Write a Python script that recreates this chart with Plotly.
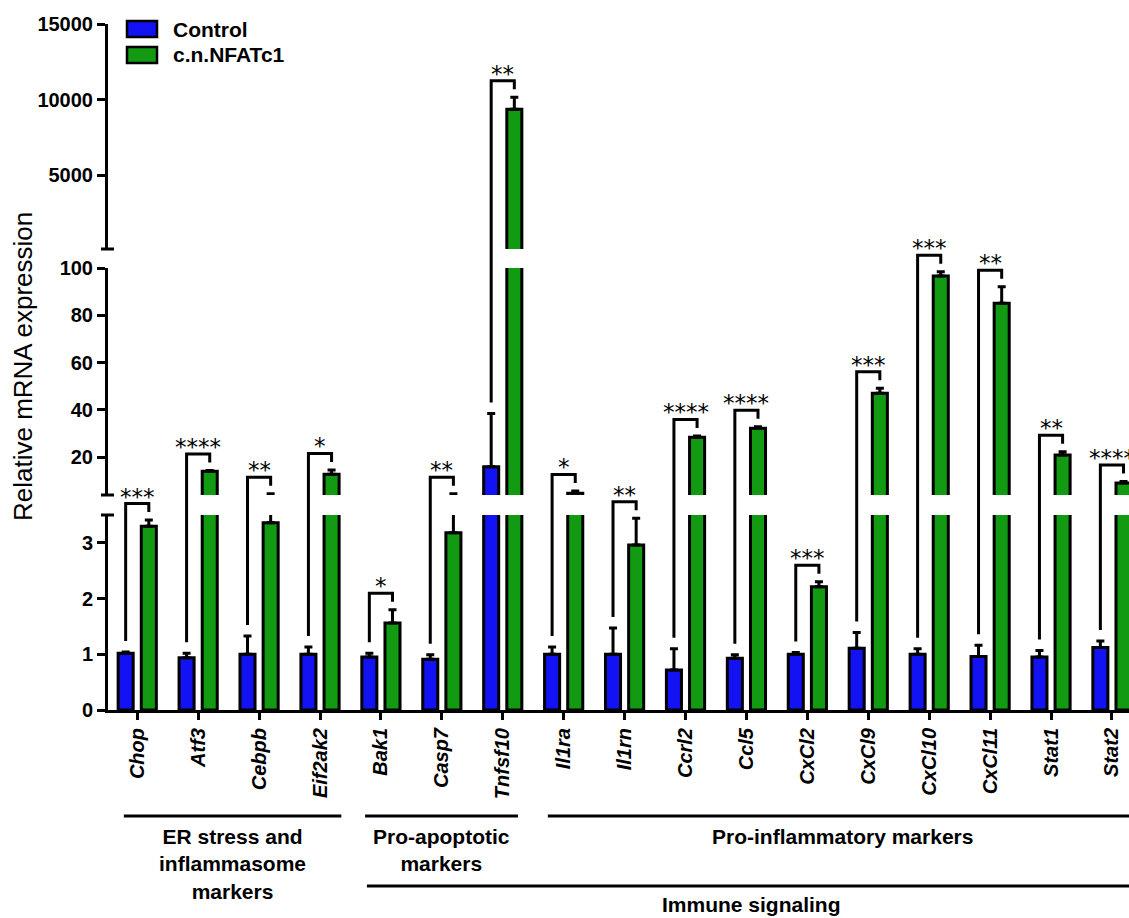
import plotly.graph_objects as go

# ---------------- data ----------------
genes = ["Chop", "Atf3", "Cebpb", "Eif2ak2", "Bak1", "Casp7", "Tnfsf10",
         "Il1ra", "Il1rn", "Ccrl2", "Ccl5", "CxCl2", "CxCl9", "CxCl10",
         "CxCl11", "Stat1", "Stat2"]
control = [1.02, 0.94, 1.00, 1.00, 0.95, 0.91, 16.0, 1.00, 1.00, 0.72,
           0.93, 1.00, 1.11, 1.00, 0.96, 0.95, 1.12]
control_err = [0.02, 0.08, 0.33, 0.13, 0.07, 0.08, 22.5, 0.13, 0.47, 0.38,
               0.06, 0.03, 0.28, 0.10, 0.20, 0.12, 0.12]
nfatc1 = [3.30, 14.0, 3.36, 12.8, 1.56, 3.18, 9350, 4.7, 2.96, 28.4,
          32.2, 2.21, 47.0, 96.6, 85.1, 20.9, 9.1]
nfatc1_err = [0.11, 0.4, 1.14, 1.8, 0.24, 1.32, 800, 1.0, 0.48, 0.6,
              0.7, 0.09, 2.1, 1.8, 7.0, 1.4, 0.6]
stars = ["***", "****", "**", "*", "*", "**", "**", "*", "**", "****",
         "****", "***", "***", "***", "**", "**", "****"]

groups_upper = [("ER stress and<br>inflammasome<br>markers", -0.22, 3.35),
                ("Pro-apoptotic<br>markers", 3.74, 6.25),
                ("Pro-inflammatory markers", 6.74, 16.40)]
group_lower = ("Immune signaling", 3.77, 16.40)

seg_ranges = [[0, 3.5], [4, 100], [100, 15000]]
seg_ticks = [[0, 1, 2, 3], [20, 40, 60, 80, 100], [5000, 10000, 15000]]

# ---------------- geometry ----------------
W, H = 1129, 918
ML, MR, MT, MB = 108, 0, 24, 208
PW, PH = W - ML - MR, H - MT - MB
X_RANGE = [-0.48, 16.28]
BLUE = "#1212F2"
GREEN = "#129A12"
FONT = "Liberation Sans, Arial, sans-serif"


def py(p):
    return (H - MB - p) / PH


def px(p):
    return (p - ML) / PW


seg_domains = [[0, py(515)], [py(495), py(268)], [py(249), 1.0]]


def v2paper(v):
    for (r0, r1), (d0, d1) in zip(seg_ranges, seg_domains):
        if r0 <= v <= r1:
            return d0 + (v - r0) / (r1 - r0) * (d1 - d0)
    for i in range(len(seg_ranges) - 1):
        a, b = seg_ranges[i][1], seg_ranges[i + 1][0]
        if a < v < b:
            da, db = seg_domains[i][1], seg_domains[i + 1][0]
            return da + (v - a) / (b - a) * (db - da)
    return 1.0


def c2paper(c):
    return (c - X_RANGE[0]) / (X_RANGE[1] - X_RANGE[0])


def visible_in(vals, errs, rmin):
    # only keep bars whose bar/error reaches into this axis segment
    return [v if v + e > rmin else None for v, e in zip(vals, errs)]


fig = go.Figure()
n = len(genes)
axes_pairs = [("x", "y"), ("x2", "y2"), ("x3", "y3")]
for k, (xa, ya) in enumerate(axes_pairs):
    rmin = seg_ranges[k][0]
    fig.add_trace(go.Bar(
        x=genes, y=visible_in(control, control_err, rmin), xaxis=xa, yaxis=ya,
        showlegend=False,
        marker=dict(color=BLUE, line=dict(color="black", width=3)),
        error_y=dict(type="data", array=control_err, arrayminus=[0] * n,
                     symmetric=False, thickness=3, width=4, color="black")))
    fig.add_trace(go.Bar(
        x=genes, y=visible_in(nfatc1, nfatc1_err, rmin), xaxis=xa, yaxis=ya,
        showlegend=False,
        marker=dict(color=GREEN, line=dict(color="black", width=3)),
        error_y=dict(type="data", array=nfatc1_err, arrayminus=[0] * n,
                     symmetric=False, thickness=3, width=4, color="black")))

axis_common = dict(showline=True, linecolor="black", linewidth=3,
                   ticks="outside", tickcolor="black", tickwidth=3, ticklen=8,
                   showgrid=False, zeroline=False,
                   tickfont=dict(family=FONT, size=20, color="black", weight="bold"))

layout = dict(
    width=W, height=H,
    margin=dict(l=ML, r=MR, t=MT, b=MB, pad=0),
    paper_bgcolor="white", plot_bgcolor="white",
    barmode="group", bargap=0.24, bargroupgap=0.35,
    xaxis=dict(domain=[0, 1], anchor="y", type="category", range=X_RANGE,
               showline=True, linecolor="black", linewidth=3,
               ticks="outside", tickcolor="black", tickwidth=2.5, ticklen=7,
               tickangle=-90, showgrid=False,
               tickfont=dict(family=FONT, size=20, color="black",
                             style="italic", weight="bold")),
    xaxis2=dict(matches="x", anchor="y2", visible=False, domain=[0, 1]),
    xaxis3=dict(matches="x", anchor="y3", visible=False, domain=[0, 1]),
)
for k, (xa, ya) in enumerate(axes_pairs):
    key = "yaxis" if k == 0 else "yaxis%d" % (k + 1)
    d = dict(axis_common)
    d.update(domain=seg_domains[k], range=seg_ranges[k], anchor=xa,
             tickvals=seg_ticks[k], ticktext=[str(t) for t in seg_ticks[k]])
    layout[key] = d
fig.update_layout(**layout)

shapes = []
annotations = []

# axis break marks
for p in (515, 495, 249):
    shapes.append(dict(type="line", xref="paper", yref="paper",
                       x0=px(101), x1=px(114), y0=py(p), y1=py(p),
                       line=dict(color="black", width=3)))

# significance brackets
for i in range(n):
    xl = c2paper(i - 0.19)
    xr = c2paper(i + 0.19)
    yl = v2paper(control[i] + control_err[i]) + 11 / PH
    yr = v2paper(nfatc1[i] + nfatc1_err[i]) + 8 / PH
    yt = max(yl, yr) + 8.5 / PH
    shapes.append(dict(type="path", xref="paper", yref="paper",
                       path="M %f,%f L %f,%f L %f,%f L %f,%f" % (xl, yl, xl, yt, xr, yt, xr, yr),
                       line=dict(color="black", width=3)))
    annotations.append(dict(text=stars[i], xref="paper", yref="paper",
                            x=c2paper(i), y=yt + 7 / PH, xanchor="center",
                            yanchor="middle", showarrow=False,
                            font=dict(family="DejaVu Sans", size=23, color="black")))

# legend
for j, (name, col) in enumerate([("Control", BLUE), ("c.n.NFATc1", GREEN)]):
    top = 21 + 26 * j
    shapes.append(dict(type="rect", xref="paper", yref="paper",
                       x0=px(127), x1=px(157), y0=py(top + 16), y1=py(top),
                       fillcolor=col, line=dict(color="black", width=2.5)))
    annotations.append(dict(text=name, xref="paper", yref="paper",
                            x=px(171), y=py(top + 8), xanchor="left", yanchor="middle",
                            showarrow=False,
                            font=dict(family=FONT, size=21, color="black", weight="bold")))

# y title
annotations.append(dict(text="Relative mRNA expression", xref="paper", yref="paper",
                        x=px(23), y=py(367), xanchor="center", yanchor="middle",
                        textangle=-90, showarrow=False,
                        font=dict(family=FONT, size=26, color="black")))

# group labels
for label, c0, c1 in groups_upper:
    shapes.append(dict(type="line", xref="paper", yref="paper",
                       x0=c2paper(c0), x1=c2paper(c1), y0=py(816), y1=py(816),
                       line=dict(color="black", width=3)))
    annotations.append(dict(text=label, xref="paper", yref="paper",
                            x=c2paper((c0 + c1) / 2), y=py(823), xanchor="center",
                            yanchor="top", showarrow=False,
                            font=dict(family=FONT, size=21, color="black", weight="bold")))
label, c0, c1 = group_lower
shapes.append(dict(type="line", xref="paper", yref="paper",
                   x0=c2paper(c0), x1=c2paper(c1), y0=py(886), y1=py(886),
                   line=dict(color="black", width=3)))
annotations.append(dict(text=label, xref="paper", yref="paper",
                        x=c2paper((c0 + c1) / 2), y=py(891), xanchor="center",
                        yanchor="top", showarrow=False,
                        font=dict(family=FONT, size=21, color="black", weight="bold")))

fig.update_layout(shapes=shapes, annotations=annotations)
fig.write_html("out.html")
